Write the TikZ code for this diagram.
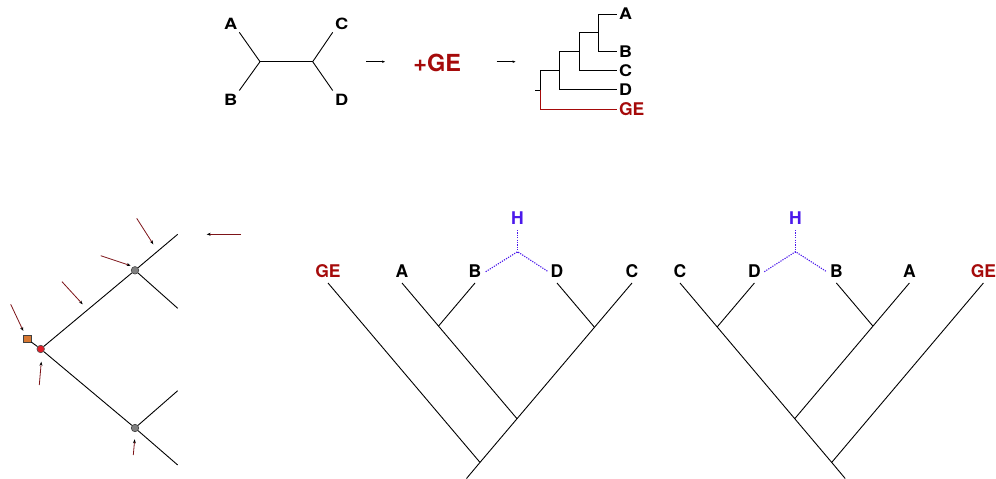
\documentclass[tikz,border=0pt]{standalone}
\usepackage{fontspec}
\setmainfont{TeX Gyre Heros}
\newcommand\wideT[2]{\scalebox{#1}[1]{#2}}
\usetikzlibrary{arrows.meta}
\definecolor{ge}{RGB}{165,10,10}
\definecolor{hb}{RGB}{75,25,235}
\definecolor{ar}{RGB}{125,20,25}
\definecolor{sqo}{RGB}{215,120,50}
\definecolor{rc}{RGB}{225,30,40}
\begin{document}
\begin{tikzpicture}[x=1pt,y=-1pt,
  lab/.style={font=\fontsize{17.5}{18}\selectfont\bfseries, inner sep=0},
  tlab/.style={font=\fontsize{15.5}{16}\selectfont\bfseries, inner sep=0},
  clab/.style={font=\fontsize{16}{16}\selectfont\bfseries, inner sep=0},
  glab/.style={font=\fontsize{17.5}{18}\selectfont\bfseries, inner sep=0, text=ge},
  br/.style={line width=0.9pt},
  hl/.style={draw=hb, line width=1.1pt, dash pattern=on 1.2pt off 1.2pt},
  ptr/.style={ar, line width=0.8pt, -{Stealth[black,length=4pt,width=3pt]}},
  sm/.style={line width=0.5pt, -{Stealth[length=3pt,width=2.5pt]}},
  gnode/.style={circle, draw=black!75, fill=gray, line width=0.6pt, minimum size=7.5pt, inner sep=0},
  rnode/.style={circle, draw=black!70, fill=rc, line width=0.6pt, minimum size=7.5pt, inner sep=0},
  snode/.style={rectangle, draw=black!75, fill=sqo, line width=0.6pt, minimum size=7.5pt, inner sep=0}
]
\useasboundingbox (0,0) rectangle (996,479);

% ---------- top: unrooted tree ----------
\node[tlab] (uA) at (230.7,24) {\wideT{1.18}{A}};
\node[tlab] (uB) at (230.7,100) {\wideT{1.18}{B}};
\node[tlab] (uC) at (341.7,24) {\wideT{1.18}{C}};
\node[tlab] (uD) at (341.7,100) {\wideT{1.18}{D}};
\coordinate (uL) at (260,61.7);
\coordinate (uR) at (312.7,61.7);
\coordinate (uAe) at (239.3,32.3);
\coordinate (uBe) at (239.3,90.5);
\coordinate (uCe) at (332.7,32.3);
\coordinate (uDe) at (332.7,90.5);
\draw[br] (uAe) -- (uL) -- (uBe);
\draw[br] (uL) -- (uR);
\draw[br] (uCe) -- (uR) -- (uDe);

\coordinate (a1s) at (366,61.7);
\coordinate (a1e) at (385,61.7);
\draw[sm] (a1s) -- (a1e);
\node[font=\fontsize{23.5}{24}\selectfont\bfseries, inner sep=0, text=ge] (plus) at (437.3,63.3) {+GE};
\coordinate (a2s) at (496.7,61.7);
\coordinate (a2e) at (515.5,61.7);
\draw[sm] (a2s) -- (a2e);

% ---------- top: rooted cladogram ----------
\node[clab, anchor=west] (cA) at (618.8,14) {\wideT{1.12}{A}};
\node[clab, anchor=west] (cB) at (618.8,51.7) {\wideT{1.12}{B}};
\node[clab, anchor=west] (cC) at (618.8,70.7) {\wideT{1.12}{C}};
\node[clab, anchor=west] (cD) at (618.8,89.3) {\wideT{1.12}{D}};
\node[glab, anchor=west] (cG) at (618.8,108.8) {GE};
\coordinate (n1) at (598.3,14);
\coordinate (n1b) at (598.3,51.7);
\coordinate (n2) at (579,32.3);
\coordinate (n2b) at (579,70.7);
\coordinate (n3) at (559.3,51.7);
\coordinate (n3b) at (559.3,89.3);
\coordinate (n4) at (540,70.7);
\coordinate (n4m) at (540,90);
\coordinate (n4b) at (540,109.3);
\coordinate (stem) at (535,90);
\coordinate (eA) at (616.7,14);
\coordinate (eB) at (616.7,51.7);
\coordinate (eC) at (616.7,70.7);
\coordinate (eD) at (616.7,89.3);
\coordinate (eG) at (616.7,109.3);
\draw[br] (eA) -- (n1) -- (n1b) -- (eB);
\draw[br] (n1 |- n2) -- (n2) -- (n2b) -- (eC);
\draw[br] (n2 |- n3) -- (n3) -- (n3b) -- (eD);
\draw[br] (n3 |- n4) -- (n4) -- (n4m);
\draw[br] (stem) -- (n4m);
\draw[br, ge] (n4m) -- (n4b) -- (eG);

% ---------- bottom left: tree with pointers ----------
\node[snode] (sq) at (27.3,339) {};
\node[rnode] (root) at (40.7,349) {};
\node[gnode] (up) at (135,270.3) {};
\node[gnode] (lo) at (135,428) {};
\coordinate (t1) at (177.7,234.3);
\coordinate (t2) at (177.7,308.3);
\coordinate (t3) at (177.7,390.7);
\coordinate (t4) at (177.7,465);
\draw[br] (sq) -- (root);
\draw[br] (root) -- (up);
\draw[br] (root) -- (lo);
\draw[br] (up) -- (t1);
\draw[br] (up) -- (t2);
\draw[br] (lo) -- (t3);
\draw[br] (lo) -- (t4);

\coordinate (p1s) at (136.7,218.3); \coordinate (p1e) at (153.3,244.3);
\coordinate (p2s) at (241,234.3);   \coordinate (p2e) at (206.7,234.3);
\coordinate (p3s) at (100.7,255.7); \coordinate (p3e) at (130.7,265.7);
\coordinate (p4s) at (62,281.7);    \coordinate (p4e) at (82.7,304.3);
\coordinate (p5s) at (10.7,304.3);  \coordinate (p5e) at (23.3,331);
\coordinate (p6s) at (39.3,385);    \coordinate (p6e) at (41.3,361.7);
\coordinate (p7s) at (133.3,455);   \coordinate (p7e) at (134.7,439.3);
\draw[ptr] (p1s) -- (p1e);
\draw[ptr] (p2s) -- (p2e);
\draw[ptr] (p3s) -- (p3e);
\draw[ptr] (p4s) -- (p4e);
\draw[ptr] (p5s) -- (p5e);
\draw[ptr] (p6s) -- (p6e);
\draw[ptr] (p7s) -- (p7e);

% ---------- bottom middle tree ----------
\node[lab, text=ge] (mGEl) at (328,271) {GE};
\node[lab] (mAl) at (402,271) {A};
\node[lab] (mBl) at (475,271) {B};
\node[lab] (mDl) at (557,271) {D};
\node[lab] (mCl) at (632,271) {C};
\node[lab, text=hb] (mHl) at (517.5,218.3) {H};
\coordinate (mGE) at (328,283);
\coordinate (mA) at (402,283);
\coordinate (mB) at (475,283);
\coordinate (mD) at (557,283);
\coordinate (mC) at (632,283);
\coordinate (mAB) at (438.5,326.1);
\coordinate (mDC) at (594.5,327.3);
\coordinate (mABDC) at (517,418.7);
\coordinate (mR) at (480,462.4);
\coordinate (mS) at (466.5,478.5);
\draw[br] (mB) -- (mAB);
\draw[br] (mA) -- (mABDC);
\draw[br] (mD) -- (mDC);
\draw[br] (mC) -- (mR) -- (mS);
\draw[br] (mGE) -- (mR);
\coordinate (mHt) at (517.5,230);
\coordinate (mHj) at (517.5,251.7);
\coordinate (mHb) at (485.7,271.7);
\coordinate (mHd) at (548.3,271.7);
\draw[hl] (mHt) -- (mHj);
\draw[hl] (mHb) -- (mHj) -- (mHd);

% ---------- bottom right tree ----------
\node[lab] (rCl) at (680,271) {C};
\node[lab] (rDl) at (754.4,271) {D};
\node[lab] (rBl) at (836.4,271) {B};
\node[lab] (rAl) at (909.4,271) {A};
\node[lab, text=ge] (rGEl) at (983.4,271) {GE};
\node[lab, text=hb] (rHl) at (795.5,218.3) {H};
\coordinate (rC) at (680,283);
\coordinate (rD) at (754.4,283);
\coordinate (rB) at (836.4,283);
\coordinate (rA) at (909.4,283);
\coordinate (rGE) at (983.4,283);
\coordinate (rCD) at (717.2,326.9);
\coordinate (rBA) at (872.9,326.1);
\coordinate (rABCD) at (794.7,418.7);
\coordinate (rR) at (831.7,462.4);
\coordinate (rS) at (845.2,478.5);
\draw[br] (rD) -- (rCD);
\draw[br] (rB) -- (rBA);
\draw[br] (rA) -- (rABCD);
\draw[br] (rC) -- (rR) -- (rS);
\draw[br] (rGE) -- (rR);
\coordinate (rHt) at (795.5,230);
\coordinate (rHj) at (795.5,251.7);
\coordinate (rHd) at (764.3,271.7);
\coordinate (rHb) at (826.7,271.7);
\draw[hl] (rHt) -- (rHj);
\draw[hl] (rHd) -- (rHj) -- (rHb);
\end{tikzpicture}
\end{document}
